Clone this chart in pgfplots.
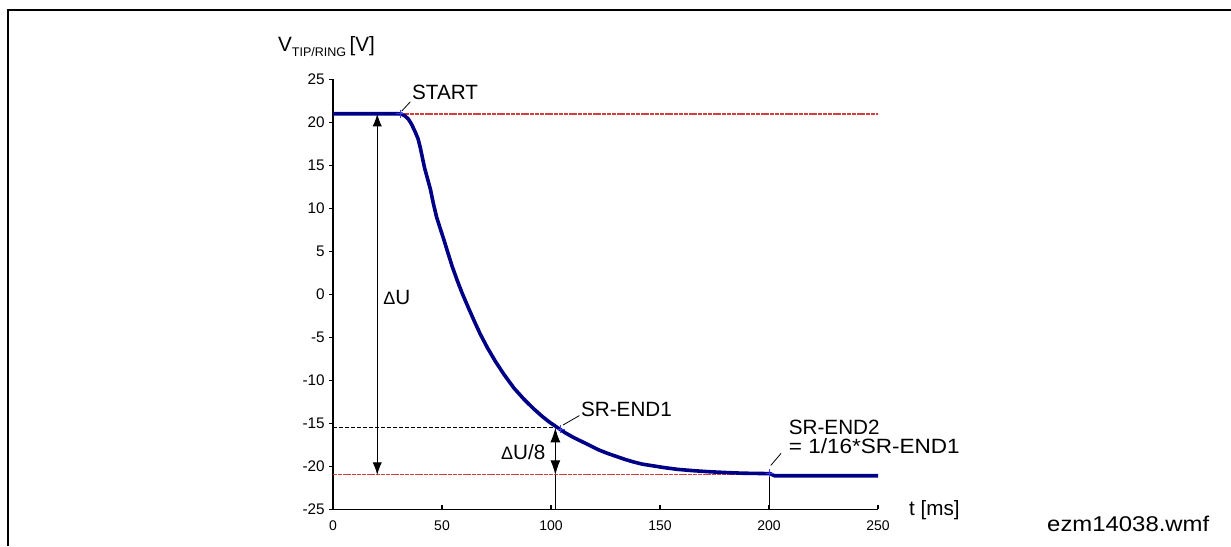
\documentclass[border=0pt]{standalone}
\usepackage{fontspec}
\setmainfont{Liberation Sans}
\usepackage{pgfplots}
\pgfplotsset{compat=1.18}
\usetikzlibrary{arrows.meta}
\definecolor{curve}{RGB}{0,0,135}
\definecolor{refred}{RGB}{215,60,60}
\definecolor{mk}{RGB}{60,60,235}
\pgfplotstableread{
x y
0 21
30 21
31.5 20.95
33 20.75
34.5 20.4
36 19.8
37.5 19.0
39 18.1
40 17.1
41 15.9
42 14.7
43.3 13.5
44.7 12.2
46 10.6
47.5 9.0
49 7.8
50.8 6.4
52.5 5.0
54.6 3.3
57 1.6
59.3 0.1
62 -1.5
64.6 -3.0
67.5 -4.6
70.8 -6.2
74.5 -7.8
78.4 -9.3
83 -10.9
87.6 -12.2
92 -13.3
96 -14.2
99.5 -14.9
103 -15.5
106.5 -16.1
110 -16.6
114 -17.1
118 -17.6
122 -18.1
126 -18.5
130 -18.85
134 -19.2
138 -19.5
142 -19.75
147 -19.95
152 -20.15
158 -20.35
165 -20.5
172 -20.62
180 -20.72
188 -20.8
200.5 -20.85
202.5 -21.1
250 -21.1
}\curvedata
\newcommand\af{\fontsize{15.5}{16}\selectfont}
\begin{document}
\begin{tikzpicture}
\useasboundingbox (0pt,0pt) rectangle (923.25pt,409.5pt);
\draw[line width=1.1pt] (6pt,0pt) -- (6pt,402pt) -- (923.25pt,402pt);
\begin{axis}[
  at={(249.75pt,27.5pt)}, anchor=south west,
  scale only axis, width=408.75pt, height=322.5pt,
  xmin=0, xmax=250, ymin=-25, ymax=25,
  axis x line*=bottom, axis y line*=left,
  axis line style={line width=1.1pt},
  xtick={0,50,...,250}, ytick={-25,-20,...,25},
  tick align=outside, major tick length=3pt,
  tick style={black, line width=0.8pt},
  xtick style={yshift=3pt},
  /pgf/number format/assume math mode=true,
  yticklabel style={font=\fontsize{11.5}{12}\selectfont, inner sep=0pt, xshift=-3pt},
  xticklabel style={font=\fontsize{10.5}{11}\selectfont, inner sep=0pt, yshift=-5pt},
  clip=false,
]
% reference lines
\addplot[draw=refred, line width=0.9pt, dash pattern=on 3pt off 0.6pt] coordinates {(31,20.97) (250,20.97)};
\addplot[draw=refred, line width=0.8pt, dash pattern=on 3pt off 0.6pt] coordinates {(0,-21) (250,-21)};
\addplot[black, line width=0.75pt, dash pattern=on 3pt off 1.5pt] coordinates {(0,-15.5) (102,-15.5)};
\addplot[black, line width=0.6pt] coordinates {(102,-21) (102,-25)};
\addplot[black, line width=0.6pt] coordinates {(200.3,-20.8) (200.3,-25)};
% arrows
\addplot[black, line width=0.75pt, {Latex[length=9.5pt,width=7pt]}-{Latex[length=9.5pt,width=7pt]}] coordinates {(20.3,21) (20.3,-21)};
\addplot[black, line width=0.75pt, {Latex[length=11pt,width=7.5pt]}-{Latex[length=11pt,width=7.5pt]}] coordinates {(102,-15.5) (102,-21)};
% curve
\addplot[curve, line width=2.7pt, line join=round] table {\curvedata};
% markers
\addplot[draw=mk, only marks, mark=+, mark size=3pt, line width=0.8pt] coordinates {(30.8,21) (104.5,-15.7) (200.3,-20.8)};
% leader lines
\addplot[black, line width=0.6pt] coordinates {(31.5,21.3) (35.5,22.4)};
\addplot[black, line width=0.6pt] coordinates {(105.5,-15.2) (113,-14.1)};
\addplot[black, line width=0.6pt] coordinates {(200.8,-19.9) (205.5,-18.5)};
% labels
\node[anchor=west, inner sep=0pt, font=\af] at (axis cs:36.2,23.5) {START};
\node[anchor=west, inner sep=0pt, font=\af] at (axis cs:113.7,-13.4) {SR-END1};
\node[anchor=west, inner sep=0pt, font=\af] at (axis cs:209,-15.5) {SR-END2};
\node[anchor=west, inner sep=0pt, font=\af] at (axis cs:209,-17.6) {\scalebox{1.09}[1]{= 1/16*SR-END1}};
\node[anchor=west, inner sep=0pt, font=\af] at (axis cs:23,-0.4) {\fontsize{13.5}{14}\selectfont Δ\af U};
\node[anchor=east, inner sep=0pt, font=\af] at (axis cs:97.5,-18.3) {\fontsize{13.5}{14}\selectfont Δ\af U/8};
\node[anchor=west, inner sep=0pt, font=\af] at (axis cs:-25.3,28.8) {V\raisebox{-3.75pt}{\fontsize{9.4}{10}\selectfont TIP/RING}\,[V]};
\node[anchor=west, inner sep=0pt, font=\af] at (axis cs:264.2,-25.1) {t [ms]};
\node[anchor=west, inner sep=0pt, font=\fontsize{16}{17}\selectfont] at (axis cs:327.5,-26.7) {\scalebox{1.12}[1]{ezm14038.wmf}};
\end{axis}
\end{tikzpicture}
\end{document}
